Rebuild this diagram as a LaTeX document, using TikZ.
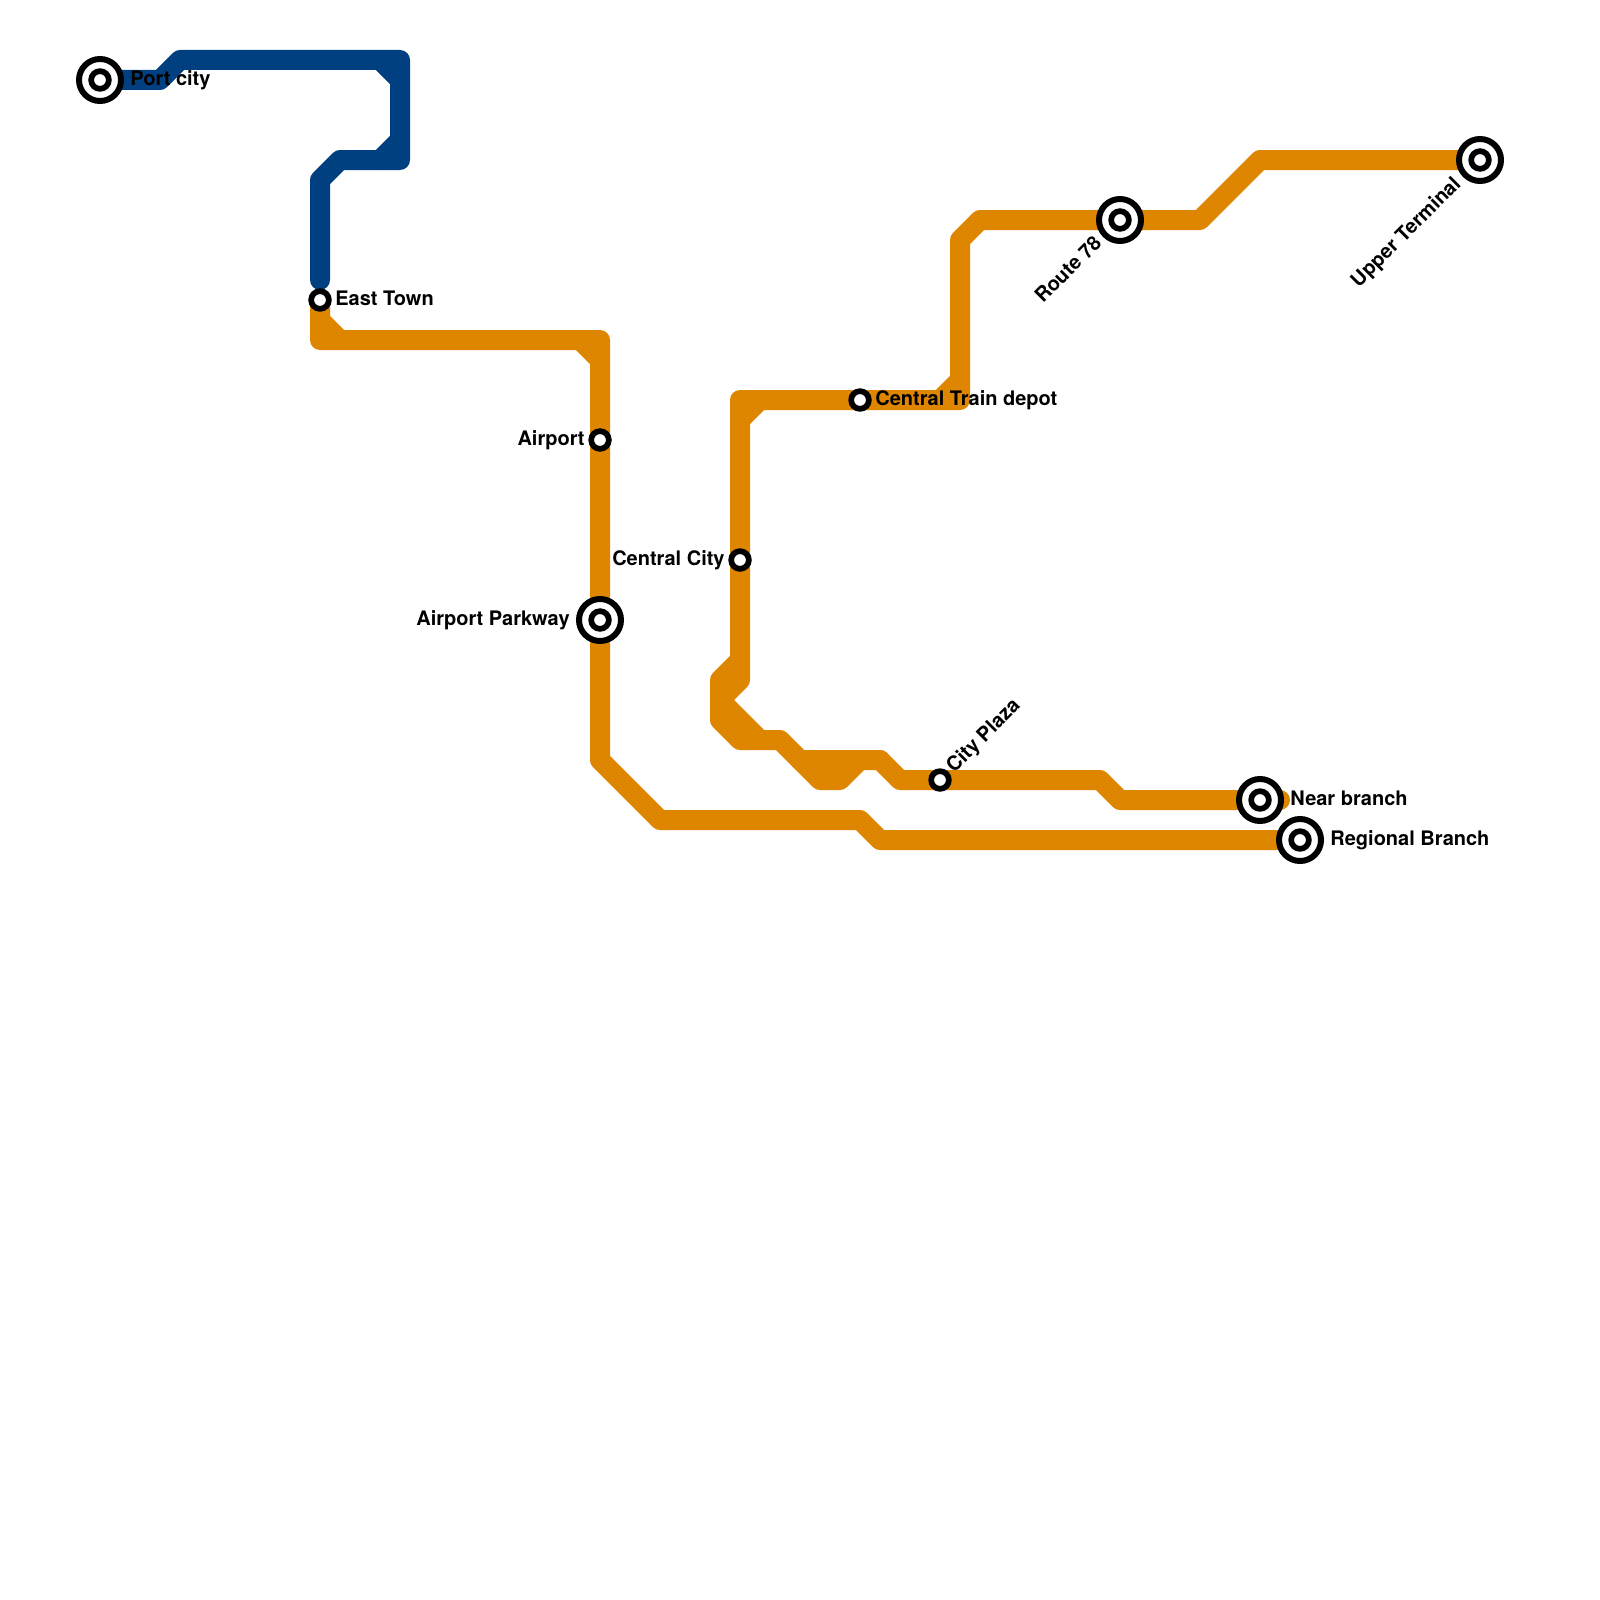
\documentclass[tikz,border=0pt]{standalone}
\usepackage{fontspec}
\setmainfont{TeX Gyre Heros}
\definecolor{lineblue}{HTML}{004080}
\definecolor{lineorange}{HTML}{DF8600}
\tikzset{
  x=0.5pt,y=-0.5pt,
  route/.style={line width=10pt,line join=round,line cap=round},
  smallstn/.style={circle,draw=black,fill=white,line width=2.85pt,minimum size=8.85pt,inner sep=0pt,outer sep=0pt},
  bigstn/.style={circle,draw=black,fill=white,line width=3pt,minimum size=21pt,inner sep=0pt,outer sep=0pt},
  innerstn/.style={circle,draw=black,fill=white,line width=2.85pt,minimum size=8.85pt,inner sep=0pt,outer sep=0pt},
  lbl/.style={font=\bfseries\fontsize{10pt}{12pt}\selectfont,inner sep=0pt,text=black},
}
\begin{document}
\begin{tikzpicture}
\useasboundingbox (0,0) rectangle (1600,1600);
\fill[white] (0,0) rectangle (1600,1600);
\coordinate (pPort) at (100,80);
\coordinate (pEast) at (320,300);
\coordinate (pEastEnd) at (320,280);
\coordinate (pAirport) at (600,440);
\coordinate (pParkway) at (600,620);
\coordinate (pCentral) at (740,560);
\coordinate (pDepot) at (860,400);
\coordinate (pPlaza) at (940,780);
\coordinate (pRoute) at (1120,220);
\coordinate (pUpper) at (1480,160);
\coordinate (pNear) at (1260,800);
\coordinate (pNearEnd) at (1280,800);
\coordinate (pRegional) at (1300,840);
% orange routes
\draw[route,lineorange] (pEast) -- (320,340) -- (600,340) -- (pAirport) -- (pParkway) -- (600,760) -- (660,820) -- (860,820) -- (880,840) -- (pRegional);
\draw[route,lineorange] (320,320) -- (340,340);
\draw[route,lineorange] (580,340) -- (600,360);
\draw[route,lineorange] (pUpper) -- (1260,160) -- (1200,220) -- (pRoute) -- (980,220) -- (960,240) -- (960,400) -- (pDepot) -- (740,400) -- (pCentral) -- (740,680) -- (720,700) -- (760,740);
\draw[route,lineorange] (740,420) -- (760,400);
\draw[route,lineorange] (960,380) -- (940,400);
\draw[route,lineorange] (740,660) -- (720,680) -- (720,720) -- (740,740) -- (780,740) -- (820,780) -- (840,780) -- (860,760) -- (880,760) -- (900,780) -- (pPlaza) -- (1100,780) -- (1120,800) -- (pNearEnd);
\draw[route,lineorange] (800,760) -- (880,760);
\fill[lineorange] (740,660) -- (740,680) -- (720,700) -- (720,680) -- cycle;
\fill[lineorange] (720,700) -- (760,740) -- (740,740) -- (720,720) -- cycle;
\fill[lineorange] (800,760) -- (860,760) -- (840,780) -- (820,780) -- cycle;
% blue route
\draw[route,lineblue] (pPort) -- (160,80) -- (180,60) -- (400,60) -- (400,160) -- (340,160) -- (320,180) -- (pEastEnd);
\draw[route,lineblue] (380,60) -- (400,80);
\draw[route,lineblue] (400,140) -- (380,160);
% stations
\node[bigstn] (port) at (pPort) {}; \node[innerstn] (portI) at (pPort) {};
\node[smallstn] (east) at (pEast) {};
\node[smallstn] (airport) at (pAirport) {};
\node[bigstn] (parkway) at (pParkway) {}; \node[innerstn] (parkwayI) at (pParkway) {};
\node[smallstn] (central) at (pCentral) {};
\node[smallstn] (depot) at (pDepot) {};
\node[smallstn] (plaza) at (pPlaza) {};
\node[bigstn] (route78) at (pRoute) {}; \node[innerstn] (route78I) at (pRoute) {};
\node[bigstn] (upper) at (pUpper) {}; \node[innerstn] (upperI) at (pUpper) {};
\node[bigstn] (near) at (pNear) {}; \node[innerstn] (nearI) at (pNear) {};
\node[bigstn] (regional) at (pRegional) {}; \node[innerstn] (regionalI) at (pRegional) {};
% labels
\node[lbl,anchor=base west] (lPort) at (130,86) {Port city};
\node[lbl,anchor=base west] (lEast) at (335,305) {East Town};
\node[lbl,anchor=base east] (lAirport) at (585,445) {Airport};
\node[lbl,anchor=base east] (lParkway) at (570,625) {Airport Parkway};
\node[lbl,anchor=base east] (lCentral) at (725,565) {Central City};
\node[lbl,anchor=base west] (lDepot) at (875,405) {Central Train depot};
\node[lbl,anchor=base west] (lNear) at (1290,805) {Near branch};
\node[lbl,anchor=base west] (lRegional) at (1330,845) {Regional Branch};
\node[lbl,anchor=base west,rotate=45] (lPlaza) at (954,774) {City Plaza};
\node[lbl,anchor=base east,rotate=45] (lRoute) at (1103,244) {Route 78};
\node[lbl,anchor=base east,rotate=45] (lUpper) at (1462,185) {Upper Terminal};
\end{tikzpicture}
\end{document}
